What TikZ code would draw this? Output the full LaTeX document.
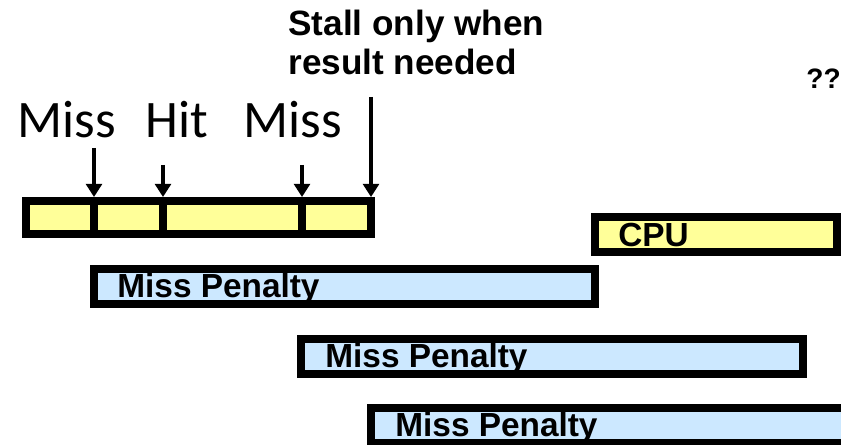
\documentclass[tikz,border=0pt]{standalone}
\usepackage{fontspec}
\setmainfont{Liberation Sans}
\newfontfamily\calibrifont{Carlito}
\usetikzlibrary{arrows.meta}

\definecolor{cellyellow}{HTML}{FFFF99}
\definecolor{penaltyblue}{HTML}{CCE8FF}

\begin{document}
\begin{tikzpicture}[x=0.02cm,y=-0.02cm,
    bar/.style={draw=black,line width=4.5pt,inner sep=0pt,minimum height=35*0.02cm},
    cell/.style={bar,fill=cellyellow,minimum height=33*0.02cm},
    penalty/.style={bar,fill=penaltyblue},
    bartext/.style={anchor=base west,inner sep=0pt,font=\bfseries\fontsize{19pt}{21pt}\selectfont},
    access/.style={anchor=base west,inner sep=0pt,font=\calibrifont\fontsize{30pt}{32pt}\selectfont},
    stall/.style={line width=2.8pt,-{Triangle[width=9pt,length=7.5pt]}}]
        % picture frame
        \useasboundingbox (0,0) rectangle (841,445);
        \clip (0,0) rectangle (841,445);

        % cache accesses
        \node[cell,minimum width=68*0.02cm] (c1) at (60,217.5) {};
        \node[cell,minimum width=69*0.02cm] (c2) at (128.5,217.5) {};
        \node[cell,minimum width=139*0.02cm] (c3) at (232.5,217.5) {};
        \node[cell,minimum width=69*0.02cm] (c4) at (336.5,217.5) {};

        \node[access] (miss1) at (17,138) {Miss};
        \node[access] (hit) at (145,138) {Hit};
        \node[access] (miss2) at (243,138) {Miss};

        \coordinate (a1) at (94,148);
        \coordinate (a2) at (163,165);
        \coordinate (a3) at (302,165);
        \coordinate (a4) at (371,97);
        \draw[stall] (a1) -- (a1 |- c1.north);
        \draw[stall] (a2) -- (a2 |- c2.north);
        \draw[stall] (a3) -- (a3 |- c3.north);
        \draw[stall] (a4) -- (a4 |- c4.north);

        % base of a two-line node is its last line
        \node[anchor=base west,inner sep=0pt,align=left,font=\bfseries\fontsize{20pt}{22.5pt}\selectfont] (note) at (288,75) {Stall only when\\result needed};
        \node[anchor=base west,inner sep=0pt,font=\bfseries\fontsize{16pt}{18pt}\selectfont] (qq) at (806,89) {??};

        % CPU and the miss penalties
        \node[cell,minimum width=242*0.02cm,minimum height=35*0.02cm] (cpu) at (716,234.5) {};
        \node[penalty,minimum width=501*0.02cm] (mp1) at (344.5,286.5) {};
        \node[penalty,minimum width=502*0.02cm] (mp2) at (552,356.5) {};
        \node[penalty,minimum width=629*0.02cm] (mp3) at (685.5,425.5) {};

        \node[bartext] (cputext) at (618,247) {CPU};
        \node[bartext] (mp1text) at (117,298) {Miss Penalty};
        \node[bartext] (mp2text) at (325,368) {Miss Penalty};
        \node[bartext] (mp3text) at (395,437) {Miss Penalty};
\end{tikzpicture}
\end{document}
